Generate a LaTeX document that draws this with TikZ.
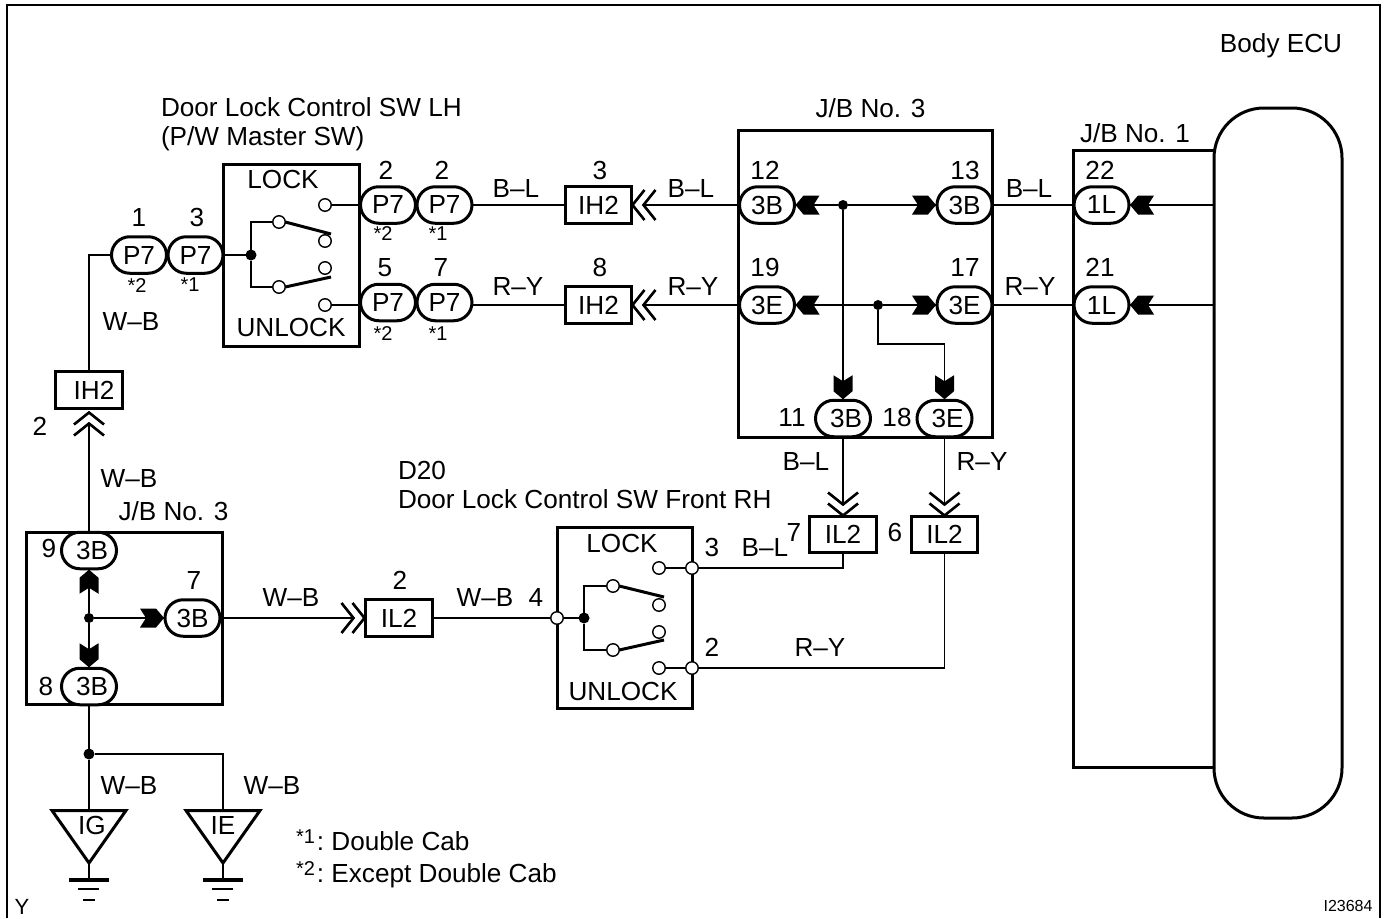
\documentclass[tikz,border=0pt]{standalone}
\usepackage{fontspec}
\setmainfont{Liberation Sans}
\usepackage{tikz}
\usetikzlibrary{shapes.misc}
\newcommand{\bigfont}{\fontsize{26.15}{30}\selectfont}
\newcommand{\smfont}{\fontsize{20}{24}\selectfont}
\newcommand{\starmark}[1]{\raisebox{7pt}{\fontsize{20}{20}\selectfont *#1}\hspace{2pt}}
\tikzset{
    lbl/.style={inner sep=0pt, outer sep=0pt, text height=18.6pt, text depth=0pt, font=\bigfont},
    smlbl/.style={inner sep=0pt, outer sep=0pt, text height=14.3pt, text depth=0pt, font=\smfont},
    wire/.style={line width=1.5pt},
    boxthick/.style={draw, fill=white, line width=3pt, inner sep=0pt, outer sep=0pt},
    pill/.style={rounded rectangle, boxthick, minimum width=55pt, minimum height=36.5pt, font=\bigfont},
    tagbox/.style={boxthick, minimum width=67pt, minimum height=37pt, font=\bigfont},
    contact/.style={circle, draw, fill=white, line width=1.4pt, inner sep=0pt, outer sep=0pt, minimum size=12.5pt},
    dot/.style={circle, fill=black, inner sep=0pt, outer sep=0pt, minimum size=10pt},
    bigdot/.style={circle, fill=black, inner sep=0pt, outer sep=0pt, minimum size=11pt},
    blade/.style={line width=3pt},
    pintip/.pic={\fill[black] (1,0) -- (9,-9.5) -- (25,-9.5) -- (19,0) -- (25,9.5) -- (9,9.5) -- cycle;},
    forktip/.pic={\draw[line width=2.6pt] (13,-15) -- (1,0) -- (13,15) (24,-15) -- (12,0) -- (24,15);},
    groundsym/.pic={
        \draw[line width=3.4pt] (-20,0) -- (20,0);
        \draw[line width=2.6pt] (-11,9) -- (10,9);
        \draw[line width=2.6pt] (-6,20) -- (6,20);},
}
\begin{document}
\begin{tikzpicture}[x=1pt,y=-1pt]
    \useasboundingbox (0,0) rectangle (1388,918);
    \fill[white] (0,0) rectangle (1388,918);
    \draw[line width=2pt] (7,918) -- (7,5) -- (1380,5) -- (1380,918);
    %
    \node[lbl] (ecutitle) at (1281,43) {Body ECU};
    \node[lbl, anchor=west] (swlhtitle) at (161,107) {Door Lock Control SW LH};
    \node[lbl, anchor=west] (swlhsub) at (161,136) {(P/W Master SW)};
    \node[lbl] (jbthreetitle) at (870.5,108) {J/B No. 3};
    \node[lbl] (jbonetitle) at (1135,133) {J/B No. 1};
    \node[lbl, anchor=west] (dtitle) at (398,470) {D20};
    \node[lbl, anchor=west] (swrhtitle) at (398,499) {Door Lock Control SW Front RH};
    \node[lbl] (jbthreeb) at (173.5,511) {J/B No. 3};
    \node[lbl, anchor=west] (noteone) at (296,841) {\starmark{1}:\ Double Cab};
    \node[lbl, anchor=west] (notetwo) at (296,873) {\starmark{2}:\ Except Double Cab};
    \node[inner sep=0pt, text height=16pt, text depth=0pt, font=\fontsize{22}{24}\selectfont] (ymark) at (22,906) {Y};
    \node[inner sep=0pt, font=\fontsize{16}{18}\selectfont] (idmark) at (1348,906) {I23684};
    %
    \node[boxthick, minimum width=187pt, minimum height=617pt] (jbone) at (1167,459) {};
    \node[boxthick, rounded corners=50pt, minimum width=128pt, minimum height=710pt] (ecu) at (1278,463) {};
    \node[boxthick, minimum width=254pt, minimum height=307pt] (jbthree) at (865.5,284) {};
    \node[boxthick, minimum width=196pt, minimum height=172pt] (jbleft) at (124.5,618.5) {};
    \node[boxthick, minimum width=136pt, minimum height=182pt] (swlh) at (291.5,255.5) {};
    \node[boxthick, minimum width=135pt, minimum height=181pt] (swrh) at (625,618) {};
    %
    \node[pill] (pone) at (139,255) {P7};
    \node[pill] (pthree) at (195.5,255) {P7};
    \node[pill] (ptwoa) at (388,205) {P7};
    \node[pill] (ptwob) at (444.5,205) {P7};
    \node[pill] (pfive) at (388,302.5) {P7};
    \node[pill] (pseven) at (444.5,302.5) {P7};
    \node[pill] (jtwelve) at (767,205) {3B};
    \node[pill] (jthirteen) at (964.5,205) {3B};
    \node[pill] (jnineteen) at (767,305) {3E};
    \node[pill] (jseventeen) at (964.5,305) {3E};
    \node[pill] (jeleven) at (843,418.5) {\hspace{6pt}3B};
    \node[pill] (jeighteen) at (944.5,418.5) {\hspace{6pt}3E};
    \node[pill] (ltwentytwo) at (1101.5,205) {1L};
    \node[pill] (ltwentyone) at (1101.5,305) {1L};
    \node[pill] (bnine) at (89,550.5) {\hspace{6pt}3B};
    \node[pill] (beight) at (89,686.5) {\hspace{6pt}3B};
    \node[pill] (bseven) at (192.5,618) {3B};
    %
    \node[tagbox] (ihleft) at (89,390) {\hspace{10pt}IH2};
    \node[tagbox, minimum width=66pt] (iha) at (598.5,205) {IH2};
    \node[tagbox, minimum width=66pt] (ihb) at (598.5,305) {IH2};
    \node[tagbox] (ilmid) at (399,618) {IL2};
    \node[tagbox, minimum height=36pt] (ila) at (843,534.5) {IL2};
    \node[tagbox, minimum width=66pt, minimum height=36pt] (ilb) at (944.5,534.5) {IL2};
    %
    % switch LH
    \node[bigdot] (swlhdot) at (251,255) {};
    \node[contact] (swlhtop) at (279,222) {};
    \node[contact] (swlhbot) at (279,287) {};
    \node[contact] (swlhc) at (325,205) {};
    \node[contact] (swlhd) at (325,241) {};
    \node[contact] (swlhe) at (325,268) {};
    \node[contact] (swlhf) at (325,305) {};
    \draw[wire] (pthree.east) -- (swlhdot);
    \draw[wire] (swlhtop.west) -| (swlhdot);
    \draw[wire] (swlhbot.west) -| (swlhdot);
    \draw[blade] (swlhtop.east) -- (331,234);
    \draw[blade] (swlhbot.east) -- (331,277);
    \draw[wire] (swlhc.east) -- (ptwoa.west);
    \draw[wire] (swlhf.east) -- (swlhf.east -| pfive.west);
    \node[lbl] (lockl) at (283,179) {LOCK};
    \node[lbl] (unlockl) at (291,327) {UNLOCK};
    %
    % switch RH
    \node[bigdot] (swrhdot) at (584,618) {};
    \node[contact] (swrhin) at (557,618) {};
    \node[contact] (swrhtop) at (613,586) {};
    \node[contact] (swrhbot) at (613,650) {};
    \node[contact] (swrhc) at (659,568) {};
    \node[contact] (swrhd) at (659,605) {};
    \node[contact] (swrhe) at (659,632) {};
    \node[contact] (swrhf) at (659,668) {};
    \node[contact] (swrhthree) at (692,568) {};
    \node[contact] (swrhtwo) at (692,668) {};
    \draw[wire] (swrhin.east) -- (swrhdot);
    \draw[wire] (swrhtop.west) -| (swrhdot);
    \draw[wire] (swrhbot.west) -| (swrhdot);
    \draw[blade] (swrhtop.east) -- (664,597);
    \draw[blade] (swrhbot.east) -- (664,640);
    \draw[wire] (swrhc.east) -- (swrhthree.west);
    \draw[wire] (swrhf.east) -- (swrhtwo.west);
    \node[lbl] (lockr) at (622,543) {LOCK};
    \node[lbl] (unlockr) at (623,691) {UNLOCK};
    %
    % upper wires
    \draw[wire] (pone.west) -| (ihleft.north);
    \pic[rotate=-90] at ([yshift=-3pt]ihleft.south) {forktip};
    \draw[wire] ([yshift=-16pt]ihleft.south) -- (bnine.north);
    \draw[wire] (ptwob.east) -- (iha.west);
    \draw[wire] (pseven.east |- ihb.west) -- (ihb.west);
    \pic at (iha.east) {forktip};
    \pic at (ihb.east) {forktip};
    \draw[wire] ([xshift=13pt]iha.east) -- (jtwelve.west);
    \draw[wire] ([xshift=13pt]ihb.east) -- (jnineteen.west);
    %
    % J/B No. 3 inside
    \node[dot] (dota) at (843,205) {};
    \node[dot] (dotb) at (878,305) {};
    \draw[wire] (jtwelve.east) -- (dota) -- (jthirteen.west);
    \draw[wire] (jnineteen.east) -- (dotb) -- (jseventeen.west);
    \draw[wire] (dota) -- (jeleven.north);
    \draw[wire] (dotb) |- (944.5,344) -- (jeighteen.north);
    \pic at (jtwelve.east) {pintip};
    \pic at (jnineteen.east) {pintip};
    \pic[rotate=180] at (jthirteen.west) {pintip};
    \pic[rotate=180] at (jseventeen.west) {pintip};
    \pic[rotate=90] at (jeleven.north) {pintip};
    \pic[rotate=90] at (jeighteen.north) {pintip};
    %
    % right side
    \draw[wire] (jthirteen.east) -- (ltwentytwo.west);
    \draw[wire] (jseventeen.east) -- (ltwentyone.west);
    \draw[wire] (ltwentytwo.east) -- (ecu.west |- ltwentytwo.east);
    \draw[wire] (ltwentyone.east) -- (ecu.west |- ltwentyone.east);
    \pic at (ltwentytwo.east) {pintip};
    \pic at (ltwentyone.east) {pintip};
    %
    % down to IL2
    \draw[wire] (jeleven.south) -- ([yshift=13pt]ila.north);
    \draw[wire] (jeighteen.south) -- ([yshift=13pt]ilb.north);
    \pic[rotate=90] at (ila.north) {forktip};
    \pic[rotate=90] at (ilb.north) {forktip};
    \draw[wire] (ila.south) |- (swrhthree.east);
    \draw[wire] (ilb.south) |- (swrhtwo.east);
    %
    % J/B No. 3 left
    \node[dot] (dotc) at (89,618) {};
    \draw[wire] (bnine.south) -- (dotc) -- (beight.north);
    \draw[wire] (dotc) -- (bseven.west);
    \pic[rotate=-90] at (bnine.south) {pintip};
    \pic[rotate=90] at (beight.north) {pintip};
    \pic[rotate=180] at (bseven.west) {pintip};
    \draw[wire] (bseven.east) -- ([xshift=-13pt]ilmid.west);
    \pic[rotate=180] at (ilmid.west) {forktip};
    \draw[wire] (ilmid.east) -- (swrhin.west);
    %
    % grounds
    \node[bigdot] (dotd) at (89,754) {};
    \coordinate (igtop) at (89,810.5);
    \coordinate (ietop) at (223,810.5);
    \coordinate (igtip) at (89,863);
    \coordinate (ietip) at (223,863);
    \coordinate (iggnd) at (89,880);
    \coordinate (iegnd) at (223,880);
    \draw[wire] (beight.south) -- (dotd) -- (igtop);
    \draw[wire] (dotd) -| (ietop);
    \draw[line width=3pt, fill=white] (52,810.5) -- (126,810.5) -- (igtip) -- cycle;
    \draw[line width=3pt, fill=white] (186,810.5) -- (260,810.5) -- (ietip) -- cycle;
    \draw[wire] (igtip) -- (iggnd);
    \draw[wire] (ietip) -- (iegnd);
    \pic at (iggnd) {groundsym};
    \pic at (iegnd) {groundsym};
    \node[lbl] (igl) at (92,825) {IG};
    \node[lbl] (iel) at (223,825) {IE};
    %
    % numbers
    \node[lbl] (numa) at (139,217) {1};
    \node[lbl] (numb) at (197,217) {3};
    \node[lbl] (numc) at (386,170) {2};
    \node[lbl] (numd) at (442,170) {2};
    \node[lbl] (nume) at (385,267) {5};
    \node[lbl] (numf) at (441,267) {7};
    \node[lbl] (numg) at (600,170) {3};
    \node[lbl] (numh) at (600,267) {8};
    \node[lbl] (numi) at (765,170) {12};
    \node[lbl] (numj) at (965,170) {13};
    \node[lbl] (numk) at (765,267) {19};
    \node[lbl] (numl) at (965,267) {17};
    \node[lbl] (numm) at (1100,170) {22};
    \node[lbl] (numn) at (1100,267) {21};
    \node[lbl] (numo) at (792,417) {11};
    \node[lbl] (nump) at (897,417) {18};
    \node[lbl] (numq) at (40,426) {2};
    \node[lbl] (numr) at (49,548) {9};
    \node[lbl] (nums) at (46,686) {8};
    \node[lbl] (numt) at (194,580) {7};
    \node[lbl] (numu) at (400,580) {2};
    \node[lbl] (numv) at (536,597) {4};
    \node[lbl] (numw) at (712,547) {3};
    \node[lbl] (numx) at (712,647) {2};
    \node[lbl] (numy) at (794,532) {7};
    \node[lbl] (numz) at (895,532) {6};
    %
    \node[smlbl] (stara) at (137,285) {*2};
    \node[smlbl] (starb) at (190,284) {*1};
    \node[smlbl] (starc) at (383,233) {*2};
    \node[smlbl] (stard) at (438,233) {*1};
    \node[smlbl] (stare) at (383,333) {*2};
    \node[smlbl] (starf) at (438,333) {*1};
    %
    % wire colours
    \node[lbl] (wca) at (131,321) {W--B};
    \node[lbl] (wcb) at (516,188) {B--L};
    \node[lbl] (wcc) at (691,188) {B--L};
    \node[lbl] (wcd) at (1029,188) {B--L};
    \node[lbl] (wce) at (518,286) {R--Y};
    \node[lbl] (wcf) at (693,286) {R--Y};
    \node[lbl] (wcg) at (1030,286) {R--Y};
    \node[lbl] (wch) at (806,461) {B--L};
    \node[lbl] (wci) at (982,461) {R--Y};
    \node[lbl] (wcj) at (129,478) {W--B};
    \node[lbl] (wck) at (291,597) {W--B};
    \node[lbl] (wcl) at (485,597) {W--B};
    \node[lbl] (wcm) at (765,547) {B--L};
    \node[lbl] (wcn) at (820,647) {R--Y};
    \node[lbl] (wco) at (129,785) {W--B};
    \node[lbl] (wcp) at (272,785) {W--B};
\end{tikzpicture}
\end{document}
